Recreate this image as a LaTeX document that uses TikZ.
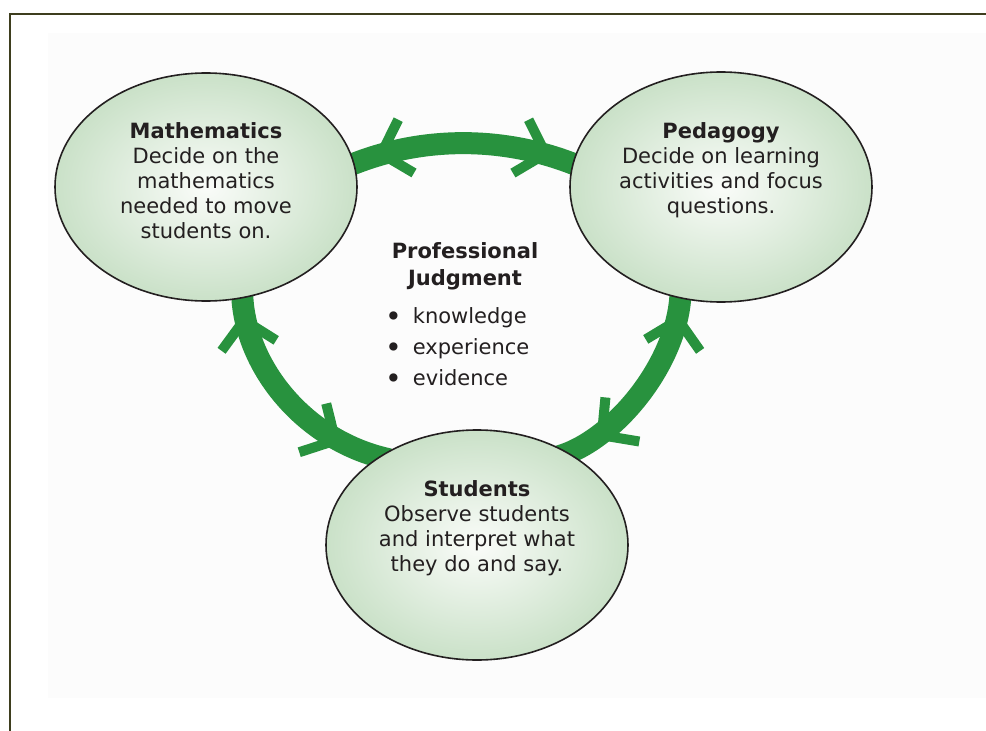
\documentclass[tikz,border=0pt]{standalone}
\usepackage{fontspec}
\usepackage{graphicx}
\setmainfont{DejaVu Sans}
\usetikzlibrary{shapes.geometric,decorations.markings,calc}
\definecolor{agreen}{RGB}{40,146,62}
\definecolor{ellout}{RGB}{202,225,200}
\definecolor{ellin}{RGB}{250,252,249}
\definecolor{framecol}{RGB}{62,62,30}
\definecolor{txtcol}{RGB}{35,31,32}
\definecolor{bgcol}{RGB}{252,252,252}
\newcommand{\bulletmark}{\makebox[27.7pt][l]{\raisebox{-2.5pt}{\scalebox{1.35}{•}}}}
\begin{document}
\begin{tikzpicture}[x=1pt,y=-1pt,
  ell/.style={ellipse, draw=txtcol, line width=1.6pt, inner sep=0pt, outer sep=0pt,
    inner color=ellin, outer color=ellout},
  body/.style={align=center, text=txtcol, inner sep=0pt, font=\fontsize{21}{25}\selectfont},
  cyclearc/.style={draw=agreen, line width=22pt, shorten <=-10pt, shorten >=-10pt},
  barbline/.style={draw=agreen, line width=10pt, line cap=butt, line join=miter,
    shorten <=0pt, shorten >=0pt},
  backbarb/.style={postaction={decorate, decoration={markings,
    mark=at position #1 with {\draw[barbline] (25.9,27.8) -- (0,0) -- (25.9,-27.8);}}}},
  forebarb/.style={postaction={decorate, decoration={markings,
    mark=at position #1 with {\draw[barbline] (-25.9,27.8) -- (0,0) -- (-25.9,-27.8);}}}},
]
\useasboundingbox (0,0) rectangle (986,731);
\fill[white] (0,0) rectangle (986,731);
\fill[bgcol] (48,33) rectangle (986,698);
\draw[framecol, line width=2pt] (10,735) -- (10,14) -- (990,14);

% ellipses (placed first so anchors exist)
\path (206,187) node[ellipse, minimum width=302pt, minimum height=228pt, inner sep=0pt, outer sep=0pt] (math) {};
\path (721,187) node[ellipse, minimum width=302pt, minimum height=230pt, inner sep=0pt, outer sep=0pt] (ped) {};
\path (477,545) node[ellipse, minimum width=302pt, minimum height=230pt, inner sep=0pt, outer sep=0pt] (stud) {};

% connectors
\draw[cyclearc, backbarb=0.13, forebarb=0.87]
  (math.9) .. controls (420,135) and (506,135) .. (ped.171);
\draw[cyclearc, backbarb=0.10, forebarb=0.79]
  (math.-72) .. controls (241,360) and (300,440) .. (stud.138);
\draw[cyclearc, backbarb=0.11, forebarb=0.81]
  (ped.250) .. controls (681,360) and (615,440) .. (stud.45);

% ellipses drawn on top
\node[ell, minimum width=302pt, minimum height=228pt] (mathE) at (math.center) {};
\node[ell, minimum width=302pt, minimum height=230pt] (pedE) at (ped.center) {};
\node[ell, minimum width=302pt, minimum height=230pt] (studE) at (stud.center) {};

% texts
\node[body] (mathtxt) at (206,181) {\textbf{Mathematics}\\Decide on the\\mathematics\\needed to move\\students on.};
\node[body] (pedtxt) at (721,170.5) {\textbf{Pedagogy}\\Decide on learning\\activities and focus\\questions.};
\node[body] (studtxt) at (477,528.5) {\textbf{Students}\\Observe students\\and interpret what\\they do and say.};
\node[body, font=\fontsize{21}{27}\selectfont\bfseries] (pj) at (465,266.5) {Professional\\Judgment};
\node[text=txtcol, align=left, inner sep=0pt, anchor=west, font=\fontsize{21}{31}\selectfont] (list) at (385,348)
  {\bulletmark knowledge\\\bulletmark experience\\\bulletmark evidence};
\end{tikzpicture}
\end{document}
